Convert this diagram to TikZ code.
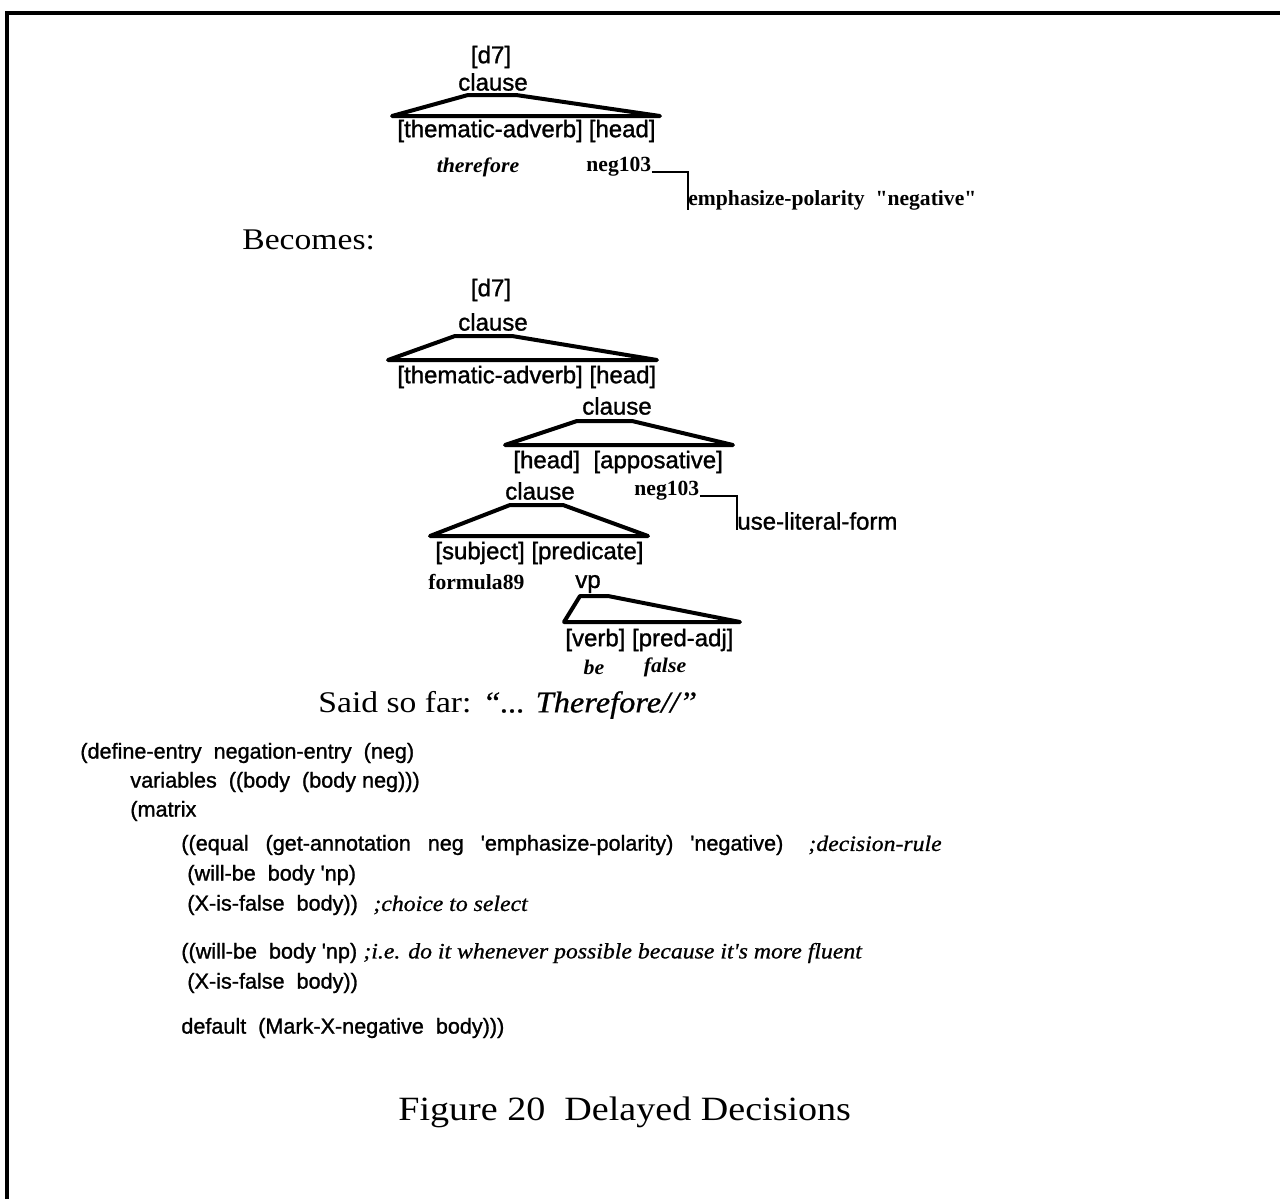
\documentclass[tikz,border=0pt]{standalone}
\usepackage{fontspec}
\newfontfamily\sansf{Liberation Sans}[FakeBold=1.2]
\newfontfamily\serifb{Liberation Serif Bold}
\newfontfamily\serifbi{Liberation Serif Bold Italic}[FakeStretch=1.05]
\newfontfamily\serifi{Liberation Serif Italic}[FakeStretch=1.08, FakeBold=0.8]
\newfontfamily\serifw{Liberation Serif}[FakeStretch=1.12]
\newcommand\tlab{\sansf\fontsize{12}{14}\selectfont}
\newcommand\codef{\sansf\fontsize{10.8}{13}\selectfont}
\newcommand\valf{\serifb\fontsize{10.8}{12}\selectfont}
\newcommand\wordf{\serifbi\fontsize{10.4}{12}\selectfont}
\newcommand\remf{\serifi\fontsize{11}{13}\selectfont}
\newcommand\headf{\serifw\fontsize{15}{18}\selectfont}
\newcommand\capf{\serifw\fontsize{17}{20}\selectfont}
% a code line spread to a given width (in pt)
\newcommand\spread[2]{\makebox[#1pt][s]{#2}}
\tikzset{
  lbl/.style={inner sep=0pt, anchor=west, font=\tlab},
  cat/.style={inner sep=0pt, anchor=center, font=\tlab},
  val/.style={inner sep=0pt, anchor=west, font=\valf},
  word/.style={inner sep=0pt, anchor=center, font=\wordf},
  ann/.style={inner sep=0pt, anchor=west, font=\tlab},
  code/.style={inner sep=0pt, anchor=west, font=\codef},
  rem/.style={inner sep=0pt, anchor=west, font=\remf},
  fan/.style={line width=2pt, line join=round, line cap=round},
  tie/.style={line width=1pt},
}
\begin{document}
\begin{tikzpicture}[x=0.5pt,y=-0.5pt]
\useasboundingbox (0,0) rectangle (1280,1199);
% frame (top and left rules)
\draw[line width=2pt] (7,1199) -- (7,13) -- (1280,13);

% ---- first tree ----
\node[cat] (d7a) at (491,57) {[d7]};
\node[cat] (cla) at (493,82) {clause};
\draw[fan] (392,116) -- (468,95) -- (516,95) -- (660,116) -- cycle;
\node[lbl] (rolesa) at (397,131) {[thematic-adverb]\hspace{3pt}[head]};
\node[word] (thf) at (478,167) {therefore};
\node[val] (nega) at (586,167) {neg103};
\node[val] (emph) at (688,200) {emphasize-polarity\ \ \textquotedbl negative\textquotedbl};
\draw[tie] (nega.base east) -| (emph.south west);

\node[inner sep=0pt, anchor=west, font=\headf] (becomes) at (242,240) {Becomes:};

% ---- second tree ----
\node[cat] (d7b) at (491,290) {[d7]};
\node[cat] (clb) at (493,322) {clause};
\draw[fan] (388,360) -- (455,336) -- (512,336) -- (657,360) -- cycle;
\node[lbl] (rolesb) at (397,377) {[thematic-adverb] [head]};
\node[cat] (clc) at (617,406) {clause};
\draw[fan] (505,445) -- (577,421) -- (632,421) -- (733,445) -- cycle;
\node[lbl] (rolesc) at (513,462) {[head]\ \ [apposative]};
\node[cat] (cld) at (540,491) {clause};
\node[val] (negb) at (634,491) {neg103};
\node[ann] (litf) at (737,521) {use-literal-form};
\draw[tie] (negb.base east) -| (litf.south west);
\draw[fan] (430,536) -- (510,505) -- (563,505) -- (648,536) -- cycle;
\node[lbl] (rolesd) at (435,553) {[subject] [predicate]};
\node[val] (form) at (428,582) {formula89};
\node[cat] (vp) at (588,584) {vp};
\draw[fan] (564,622) -- (580,596) -- (608,596) -- (740,622) -- cycle;
\node[lbl] (rolese) at (565,640) {[verb] [pred-adj]};
\node[word] (be) at (594,667) {be};
\node[word] (fls) at (665,667) {false};

\node[inner sep=0pt, anchor=west, font=\headf] (said) at (318,705)
  {Said so far: {\serifi “... Therefore//”}};

% ---- code ----
\node[code] (l1) at (80,753) {(define-entry\ \ negation-entry\ \ (neg)};
\node[code] (l2) at (130,782) {variables\ \ ((body\ \ (body neg)))};
\node[code] (l3) at (130,811) {(matrix};
\node[code] (l4) at (181,845) {\spread{301}{((equal (get-annotation neg \textquotesingle emphasize-polarity) \textquotesingle negative)}};
\node[rem] (c4) at (808,845) {;decision-rule};
\node[code] (l5) at (187,875) {(will-be\ \ body \textquotesingle np)};
\node[code] (l6) at (187,905) {(X-is-false\ \ body))};
\node[rem] (c6) at (373,905) {;choice to select};
\node[code] (l7) at (181,953) {((will-be\ \ body \textquotesingle np)};
\node[rem] (c7) at (363,953) {;i.e. do it whenever possible because it's more fluent};
\node[code] (l8) at (187,983) {(X-is-false\ \ body))};
\node[code] (l9) at (181,1028) {default\ \ (Mark-X-negative\ \ body)))};

\node[inner sep=0pt, anchor=west, font=\capf] (cap) at (398,1112) {Figure 20\ \ Delayed Decisions};
\end{tikzpicture}
\end{document}
